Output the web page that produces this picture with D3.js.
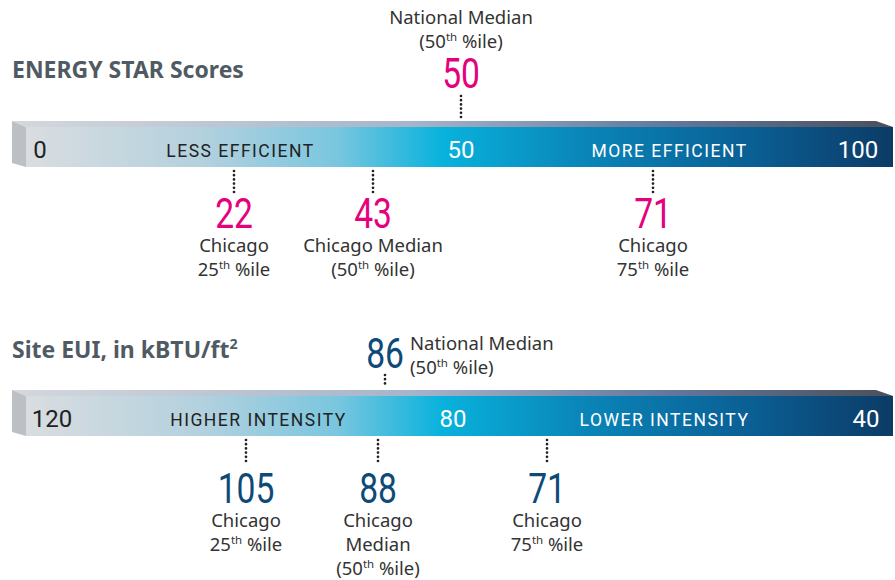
<!DOCTYPE html>
<html>
<head>
<meta charset="utf-8">
<script src="https://cdn.jsdelivr.net/npm/d3@7"></script>
<style>
  body { margin: 0; background: #fff; }
  svg { display: block; }
</style>
</head>
<body>
<div id="chart"></div>
<script>
// ---- data ----
var scoreTitle = "ENERGY STAR Scores";
var scoreTicks = [0, 50, 100];
var scoreZones = ["LESS EFFICIENT", "MORE EFFICIENT"];
var scoreNational = 50;
var scoreNationalLabel = ["National Median", "(50^th %ile)"];
var scoreChicago = [22, 43, 71];
var scoreChicagoLabels = [["Chicago", "25^th %ile"], ["Chicago Median", "(50^th %ile)"], ["Chicago", "75^th %ile"]];

var euiTitle = "Site EUI, in kBTU/ft^2";
var euiTicks = [120, 80, 40];
var euiZones = ["HIGHER INTENSITY", "LOWER INTENSITY"];
var euiNational = 86;
var euiNationalLabel = ["National Median", "(50^th %ile)"];
var euiChicago = [105, 88, 71];
var euiChicagoLabels = [["Chicago", "25^th %ile"], ["Chicago", "Median", "(50^th %ile)"], ["Chicago", "75^th %ile"]];

// ---- layout ----
var width = 895, height = 580;
var labelFont = "'Source Sans Pro', 'Noto Sans', 'Open Sans', sans-serif";
var numFont = "Roboto, 'Liberation Sans', sans-serif";
var pink = "#e5007d", navy = "#0e4a78";
var lblSize = 18.5;

var svg = d3.select("#chart").append("svg")
    .attr("width", width)
    .attr("height", height);

var defs = svg.append("defs");

function grad(id, stops) {
    var g = defs.append("linearGradient").attr("id", id)
        .attr("x1", "0%").attr("x2", "100%").attr("y1", "0%").attr("y2", "0%");
    stops.forEach(function(s) {
        g.append("stop").attr("offset", s[0]).attr("stop-color", s[1]);
    });
}
grad("front", [[0, "#d9dde0"], [0.2, "#b4d1de"], [0.36, "#79c6df"], [0.48, "#08b2dc"],
               [0.64, "#0a86b9"], [0.84, "#0a5e93"], [1, "#0c3b66"]]);
grad("top", [[0, "#d4d8dd"], [0.45, "#a6b5ca"], [0.75, "#61779b"], [1, "#4b505a"]]);

// write text with "^" marking a superscript run (up to the next space)
function richText(sel, str, size) {
    var parts = str.split("^");
    sel.append("tspan").text(parts[0]);
    if (parts.length > 1) {
        var p = parts[1];
        var sp = p.indexOf(" ");
        var sup = sp < 0 ? p : p.slice(0, sp);
        var rest = sp < 0 ? "" : p.slice(sp);
        sel.append("tspan").attr("dy", -size * 0.38).attr("font-size", size * 0.62).text(sup);
        if (rest) sel.append("tspan").attr("dy", size * 0.38).text(rest);
    }
}

function dotted(g, x, y1, y2) {
    g.append("line")
        .attr("x1", x).attr("x2", x)
        .attr("y1", y1).attr("y2", y2)
        .attr("stroke", "#222")
        .attr("stroke-width", 2.7)
        .attr("stroke-linecap", "round")
        .attr("stroke-dasharray", "0,4.2");
}

function bigNumber(g, x, y, value, color) {
    g.append("text")
        .attr("transform", "translate(" + x + "," + y + ") scale(0.8,1)")
        .attr("text-anchor", "middle")
        .attr("font-family", numFont)
        .attr("font-size", 42)
        .attr("fill", color)
        .text(value);
}

function drawSection(o) {
    var g = svg.append("g");
    var x = o.scale;
    var y0 = o.barTop;          // top of the top face
    var fTop = y0 + 6, fBot = y0 + 46;

    // title
    var t = g.append("text")
        .attr("x", 12).attr("y", o.titleY)
        .attr("font-family", labelFont)
        .attr("font-weight", 700)
        .attr("font-size", 23)
        .attr("fill", "#505a63");
    richText(t, o.title, 23);

    // 3d bar
    g.append("polygon")
        .attr("points", [[12, y0], [876, y0], [893, fTop], [26, fTop]].join(" "))
        .attr("fill", "url(#top)");
    g.append("rect")
        .attr("x", 26).attr("y", fTop)
        .attr("width", 867).attr("height", fBot - fTop)
        .attr("fill", "url(#front)");
    g.append("polygon")
        .attr("points", [[12, y0], [26, fTop], [26, fBot], [12, fBot - 4]].join(" "))
        .attr("fill", "#bcc0c5");

    // ticks inside bar
    g.selectAll(".tick").data(o.ticks).enter().append("text")
        .attr("x", function(d) { return x(d); })
        .attr("y", fBot - 9)
        .attr("text-anchor", "middle")
        .attr("font-family", numFont)
        .attr("font-size", 24)
        .attr("fill", function(d, i) { return i === 0 ? "#222" : "#fff"; })
        .text(function(d) { return d; });

    // zone labels
    g.selectAll(".zone").data(o.zones).enter().append("text")
        .attr("x", function(d, i) { return (x(o.ticks[i]) + x(o.ticks[i + 1])) / 2 + o.zoneShift[i]; })
        .attr("y", fBot - 10)
        .attr("text-anchor", "middle")
        .attr("font-family", numFont)
        .attr("font-size", 17.5)
        .attr("letter-spacing", 1.5)
        .attr("fill", function(d, i) { return i === 0 ? "#222" : "#fff"; })
        .text(function(d) { return d; });

    // national median (above)
    var nx = x(o.national);
    dotted(g, nx, o.natDotTop, y0 - 3);
    bigNumber(g, nx, o.natNumY, o.national, o.color);
    o.nationalLabel.forEach(function(line, i) {
        var tt = g.append("text")
            .attr("x", o.natLabelX(nx)).attr("y", o.natLabelY + i * 24)
            .attr("text-anchor", o.natAnchor)
            .attr("font-family", labelFont)
            .attr("font-size", lblSize)
            .attr("fill", "#333");
        richText(tt, line, lblSize);
    });

    // Chicago markers (below)
    o.chicago.forEach(function(v, k) {
        var cx = x(v);
        dotted(g, cx, fBot + 4, fBot + 29);
        bigNumber(g, cx, fBot + o.numGap, v, o.color);
        o.chicagoLabels[k].forEach(function(line, i) {
            var tt = g.append("text")
                .attr("x", cx).attr("y", fBot + o.numGap + 24 + i * 24)
                .attr("text-anchor", "middle")
                .attr("font-family", labelFont)
                .attr("font-size", lblSize)
                .attr("fill", "#333");
            richText(tt, line, lblSize);
        });
    });
}

// the infographic places values on a piecewise track, not a proportional one
var scoreX = d3.scaleLinear()
    .domain([0, 22, 43, 50, 71, 100])
    .range([40, 234, 373, 461, 653, 858]);

var euiX = d3.scaleLinear()
    .domain([120, 105, 88, 86, 80, 71, 40])
    .range([52, 246, 378, 385, 453, 547, 866]);

drawSection({
    title: scoreTitle, titleY: 78, barTop: 121, scale: scoreX,
    ticks: scoreTicks, zones: scoreZones, zoneShift: [-10, 10],
    national: scoreNational, nationalLabel: scoreNationalLabel,
    natDotTop: 96, natNumY: 88, natLabelY: 24, natAnchor: "middle",
    natLabelX: function(x) { return x; },
    chicago: scoreChicago, chicagoLabels: scoreChicagoLabels,
    numGap: 61, color: pink
});

drawSection({
    title: euiTitle, titleY: 358, barTop: 390, scale: euiX,
    ticks: euiTicks, zones: euiZones, zoneShift: [6, 5],
    national: euiNational, nationalLabel: euiNationalLabel,
    natDotTop: 375, natNumY: 368, natLabelY: 350, natAnchor: "start",
    natLabelX: function(x) { return x + 25; },
    chicago: euiChicago, chicagoLabels: euiChicagoLabels,
    numGap: 67, color: navy
});
</script>
</body>
</html>
